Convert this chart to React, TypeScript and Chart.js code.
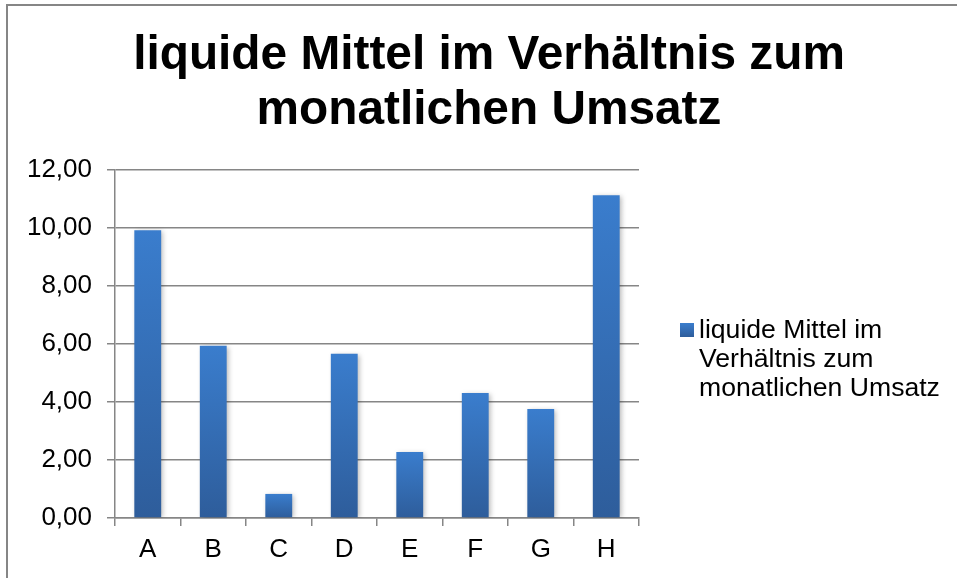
import React, { useEffect, useRef } from "react";
import { Chart, registerables } from "chart.js";

Chart.register(...registerables);

const categories = ["A", "B", "C", "D", "E", "F", "G", "H"];
const values = [9.92, 5.94, 0.83, 5.66, 2.28, 4.31, 3.76, 11.13];
const seriesName = "liquide Mittel im Verhältnis zum monatlichen Umsatz";
const titleLines = ["liquide Mittel im Verhältnis zum", "monatlichen Umsatz"];
const legendLines = ["liquide Mittel im", "Verhältnis zum", "monatlichen Umsatz"];
const yMin = 0;
const yMax = 12;
const yStep = 2;

const FONT = "'Liberation Sans', Arial, Helvetica, sans-serif";
const GRID = "#868686";
const TOP_COLOR = "#3a7dcd";
const BOTTOM_COLOR = "#2e5d9b";

const framePlugin = {
  id: "frame",
  beforeDraw(chart: any) {
    const ctx = chart.ctx;
    ctx.save();
    ctx.fillStyle = "#ffffff";
    ctx.fillRect(0, 0, chart.width, chart.height);
    ctx.strokeStyle = GRID;
    ctx.lineWidth = 2;
    ctx.strokeRect(7, 5, chart.width + 20, chart.height + 20);
    ctx.restore();
  },
};

const titlePlugin = {
  id: "customTitle",
  afterDraw(chart: any) {
    const ctx = chart.ctx;
    ctx.save();
    ctx.fillStyle = "#000000";
    ctx.font = `bold 47.8px ${FONT}`;
    ctx.textAlign = "center";
    ctx.textBaseline = "alphabetic";
    const baselines = [69, 124];
    titleLines.forEach((line, i) => ctx.fillText(line, 489, baselines[i]));
    ctx.restore();
  },
};

const legendPlugin = {
  id: "customLegend",
  afterDraw(chart: any) {
    const ctx = chart.ctx;
    ctx.save();
    const g = ctx.createLinearGradient(0, 323, 0, 337);
    g.addColorStop(0, TOP_COLOR);
    g.addColorStop(1, BOTTOM_COLOR);
    ctx.fillStyle = g;
    ctx.fillRect(680, 323, 14, 14);
    ctx.fillStyle = "#000000";
    ctx.font = `26.6px ${FONT}`;
    ctx.textAlign = "left";
    ctx.textBaseline = "middle";
    legendLines.forEach((line, i) => ctx.fillText(line, 699, 331 + i * 29));
    ctx.restore();
  },
};

const shadowPlugin = {
  id: "barShadow",
  beforeDatasetsDraw(chart: any) {
    const ctx = chart.ctx;
    ctx.save();
    ctx.shadowColor = "rgba(0,0,0,0.28)";
    ctx.shadowBlur = 5;
    ctx.shadowOffsetX = 2;
    ctx.shadowOffsetY = 1;
  },
  afterDatasetsDraw(chart: any) {
    chart.ctx.restore();
  },
};

export default function App() {
  const canvasRef = useRef<HTMLCanvasElement | null>(null);

  useEffect(() => {
    if (!canvasRef.current) return;
    const chart = new Chart(canvasRef.current, {
      type: "bar",
      data: {
        labels: categories,
        datasets: [
          {
            label: seriesName,
            data: values,
            backgroundColor: (c: any) => {
              const ch = c.chart;
              if (!ch.chartArea || !ch.scales.y || typeof c.raw !== "number") return TOP_COLOR;
              const top = ch.scales.y.getPixelForValue(c.raw);
              const base = ch.scales.y.getPixelForValue(0);
              const g = ch.ctx.createLinearGradient(0, top, 0, base);
              g.addColorStop(0, TOP_COLOR);
              g.addColorStop(1, BOTTOM_COLOR);
              return g;
            },
            borderWidth: 0,
            barPercentage: 0.41,
            categoryPercentage: 1,
          },
        ],
      },
      options: {
        responsive: false,
        animation: false,
        devicePixelRatio: 1,
        layout: { padding: { top: 170, right: 318, bottom: 0, left: 0 } },
        plugins: {
          legend: { display: false },
          title: { display: false },
          tooltip: { enabled: false },
        },
        scales: {
          x: {
            grid: {
              drawOnChartArea: false,
              offset: true,
              tickLength: 8,
              color: GRID,
              lineWidth: 1.5,
            },
            border: { color: GRID, width: 1.5 },
            ticks: {
              color: "#000000",
              font: { family: FONT, size: 26 },
              padding: 8,
              maxRotation: 0,
            },
            afterFit: (s: any) => {
              s.height = 60;
            },
          },
          y: {
            min: yMin,
            max: yMax,
            grid: { color: GRID, lineWidth: 1.5, tickLength: 8 },
            border: { color: GRID, width: 1.5 },
            ticks: {
              stepSize: yStep,
              color: "#000000",
              font: { family: FONT, size: 26 },
              padding: 15,
              callback: (v: any) => Number(v).toFixed(2).replace(".", ","),
            },
            afterFit: (s: any) => {
              s.width = 115;
            },
          },
        },
      },
      plugins: [framePlugin, shadowPlugin, titlePlugin, legendPlugin],
    });
    return () => chart.destroy();
  }, []);

  return (
    <div style={{ position: "absolute", left: 0, top: 0, width: 957, height: 578 }}>
      <canvas ref={canvasRef} width={957} height={578} style={{ width: 957, height: 578, display: "block" }} />
    </div>
  );
}
